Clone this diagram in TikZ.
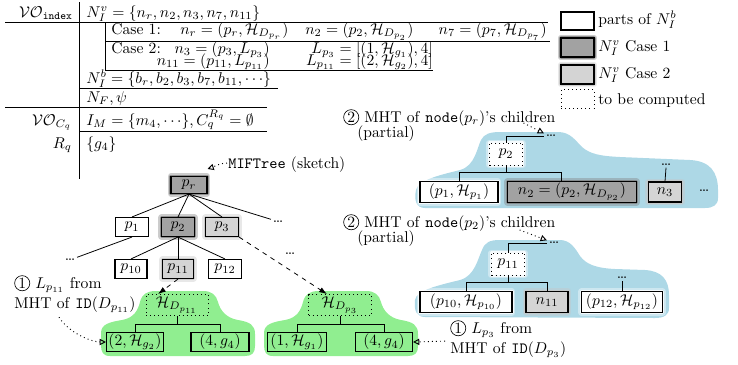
\documentclass[tikz,border=0pt]{standalone}
\usetikzlibrary{arrows.meta,calc}
\newdimen\pxu \pxu=0.64pt
\definecolor{mhtblue}{RGB}{173,216,230}
\definecolor{idgreen}{RGB}{144,238,144}
\definecolor{caseone}{RGB}{162,162,162}
\definecolor{casetwo}{RGB}{212,212,212}
\newcommand{\circnum}[1]{\tikz[baseline=(cn.base)]\node[draw,solid,circle,inner sep=0.5pt,line width=0.4pt](cn){#1};}
\tikzset{
  txt/.style={inner sep=0pt},
  rule/.style={line width=0.5pt},
  link/.style={line width=0.5pt},
  halo/.style={preaction={draw=#1,solid,line width=6.5\pxu,line join=round,opacity=0.4},
               preaction={draw=#1,solid,line width=3.5\pxu,line join=round,opacity=0.8}},
  pbox/.style={draw,line width=0.7pt,inner sep=0pt,minimum height=19\pxu},
  nb/.style={pbox,fill=white,halo=white},
  ca/.style={pbox,fill=caseone,halo=gray},
  cb/.style={pbox,fill=casetwo,halo=gray!45},
  tbc/.style={draw,dotted,line width=0.6pt,fill=white,halo=white,inner sep=0pt,minimum height=22\pxu},
  idtbc/.style={draw,dotted,line width=0.6pt,inner sep=0pt,minimum height=21\pxu},
  dotsn/.style={inner sep=1pt},
  idarrow/.style={dashed,line width=0.5pt,-{Latex[length=5pt,width=3.5pt]}},
  note/.style={dotted,line width=0.6pt,-{Triangle[open,length=4pt,width=4pt]}},
}
\begin{document}
\begin{tikzpicture}[x=\pxu,y=-\pxu]
\useasboundingbox (0,0) rectangle (738,364);

% ---------- verification object table ----------
\draw[rule] (79,2) -- (79,179);
\draw[rule] (5,22) -- (548,22);
\draw[rule] (105,22) -- (105,70);
\draw[rule] (105,41) -- (550,41);
\draw[rule] (105,70) -- (433,70);
\draw[rule] (79,88) -- (278,88);
\draw[rule] (5,107) -- (267,107);
\draw[rule] (79,131) -- (267,131);

\node[txt,anchor=base east] (voi) at (73,17) {$\mathcal{VO}_{\mathtt{index}}$};
\node[txt,anchor=base west] (niv) at (86,17) {$N_I^v=\{n_r,n_2,n_3,n_7,n_{11}\}$};
\node[txt,anchor=base west] (c1) at (111,34) {Case 1:};
\node[txt,anchor=base west] (c1a) at (180,34) {$n_r=(p_r,\mathcal{H}_{D_{p_r}})$};
\node[txt,anchor=base west] (c1b) at (305,34) {$n_2=(p_2,\mathcal{H}_{D_{p_2}})$};
\node[txt,anchor=base east] (c1c) at (547,34) {$n_7=(p_7,\mathcal{H}_{D_{p_7}})$};
\node[txt,anchor=base west] (c2) at (111,53.5) {Case 2:};
\node[txt,anchor=base east] (c2a) at (270,53.5) {$n_3=(p_3,L_{p_3})$};
\node[txt,anchor=base east] (c2b) at (433,53.5) {$L_{p_3}=[(1,\mathcal{H}_{g_1}),4]$};
\node[txt,anchor=base east] (c2c) at (270,65.5) {$n_{11}=(p_{11},L_{p_{11}})$};
\node[txt,anchor=base east] (c2d) at (433,65.5) {$L_{p_{11}}=[(2,\mathcal{H}_{g_2}),4]$};
\node[txt,anchor=base west] (nib) at (86,83) {$N_I^b=\{b_r,b_2,b_3,b_7,b_{11},\cdots\}$};
\node[txt,anchor=base west] (nf) at (86,102) {$N_F,\psi$};
\node[txt,anchor=base east] (voc) at (72,125) {$\mathcal{VO}_{C_q}$};
\node[txt,anchor=base west] (im) at (86,125.5) {$I_M=\{m_4,\cdots\},C_q^{\bar{R}_q}=\emptyset$};
\node[txt,anchor=base east] (rq) at (72,148) {$R_q$};
\node[txt,anchor=base west] (gq) at (86,148) {$\{g_4\}$};

% ---------- legend ----------
\node[pbox,fill=white,minimum width=33\pxu,minimum height=18\pxu] (lg1) at (577.5,21) {};
\node[ca,minimum width=33\pxu] (lg2) at (577.5,47.5) {};
\node[cb,minimum width=33\pxu] (lg3) at (577.5,74.5) {};
\node[tbc,minimum width=33\pxu,minimum height=19\pxu] (lg4) at (577.5,99) {};
\node[txt,anchor=base west] (lt1) at (598,24) {parts of $N_I^b$};
\node[txt,anchor=base west] (lt2) at (598,51) {$N_I^v$ Case 1};
\node[txt,anchor=base west] (lt3) at (598,78) {$N_I^v$ Case 2};
\node[txt,anchor=base west] (lt4) at (598,104) {to be computed};

% ---------- MIFTree sketch ----------
\node[ca,minimum width=36\pxu,minimum height=17\pxu] (pr) at (189,185) {$p_r$};
\node[nb,minimum width=33\pxu] (p1) at (132,227) {$p_1$};
\node[ca,minimum width=33\pxu] (p2) at (178,227) {$p_2$};
\node[cb,minimum width=33\pxu] (p3) at (222,227) {$p_3$};
\node[dotsn] (dA) at (278,222) {\ldots};
\node[dotsn] (dB) at (70,260) {\ldots};
\node[nb,minimum width=32\pxu] (p10) at (131,269) {$p_{10}$};
\node[cb,minimum width=31\pxu] (p11) at (178,269) {$p_{11}$};
\node[nb,minimum width=33\pxu] (p12) at (225,269) {$p_{12}$};
\node[dotsn] (dC) at (290,254) {\ldots};

\draw[link] (pr.south) -- (p1.north);
\draw[link] (pr.south) -- (p2.north);
\draw[link] (pr.south) -- (p3.north);
\draw[link] (pr.south) -- (dA.north west);
\draw[link] (p1.south) -- (dB.north east);
\draw[link] (p2.south) -- (p10.north);
\draw[link] (p2.south) -- (p11.north);
\draw[link] (p2.south) -- (p12.north);

\node[txt,anchor=base west] (mif) at (228,168) {\texttt{MIFTree} (sketch)};
\draw[note] ($(mif.west)+(-1,-1)$) .. controls +(-8,0) and +(6,-2) .. ($(pr.north east)+(0,-7)$);

% ---------- MHTs of the two ID sets ----------
\fill[idgreen] (110,356) .. controls (103,356) and (101,352) .. (101,345) -- (101,333)
  .. controls (101,324) and (110,322) .. (122,320) .. controls (134,318) and (138,310) .. (140,302)
  .. controls (142,294) and (147,291) .. (156,291) -- (203,291)
  .. controls (212,291) and (216,295) .. (218,302) .. controls (220,310) and (226,318) .. (238,320)
  .. controls (250,322) and (255,325) .. (255,334) -- (255,346)
  .. controls (255,353) and (252,356) .. (245,356) -- cycle;
\begin{scope}[shift={(163,0)}]
\fill[idgreen] (110,356) .. controls (103,356) and (101,352) .. (101,345) -- (101,333)
  .. controls (101,324) and (110,322) .. (122,320) .. controls (134,318) and (138,310) .. (140,302)
  .. controls (142,294) and (147,291) .. (156,291) -- (203,291)
  .. controls (212,291) and (216,295) .. (218,302) .. controls (220,310) and (226,318) .. (238,320)
  .. controls (250,322) and (255,325) .. (255,334) -- (255,346)
  .. controls (255,353) and (252,356) .. (245,356) -- cycle;
\end{scope}

\node[idtbc,minimum width=62\pxu] (h11) at (177,305) {$\mathcal{H}_{D_{p_{11}}}$};
\node[pbox,minimum width=57\pxu] (g2a) at (135,342) {$(2,\mathcal{H}_{g_2})$};
\node[pbox,minimum width=58\pxu] (g2b) at (220,342) {$(4,g_4)$};
\node[idtbc,minimum width=63\pxu] (h3) at (340,305) {$\mathcal{H}_{D_{p_3}}$};
\node[pbox,minimum width=59\pxu] (g3a) at (297,342) {$(1,\mathcal{H}_{g_1})$};
\node[pbox,minimum width=57\pxu] (g3b) at (384,342) {$(4,g_4)$};

\draw[link] (h11.south) -- ++(0,8) -| (g2a.north);
\draw[link] (h11.south) -- ++(0,8) -| (g2b.north);
\draw[link] (h3.south) -- ++(0,8) -| (g3a.north);
\draw[link] (h3.south) -- ++(0,8) -| (g3b.north);

\draw[idarrow] (p3.south east) -- (h3.140);
\draw[idarrow] (p11.south) -- (h11.150);

\node[txt,anchor=north west,align=left] (lab1) at (14,275)
  {\circnum{1} $L_{p_{11}}$ from\\[0.8pt]MHT of \texttt{ID}$(D_{p_{11}})$};
\draw[note] ($(lab1.south west)+(45,4)$) .. controls +(10,16) and +(-14,0) .. (g2a.west);

\node[txt,anchor=north west,align=left] (lab3) at (450,320)
  {\circnum{1} $L_{p_3}$ from\\[0.8pt]MHT of \texttt{ID}$(D_{p_3})$};
\draw[note] ($(lab3.west)+(-5,2)$) -- (g3b.east);

% ---------- partial MHT of node(p_r)'s children ----------
\fill[mhtblue] (425,208) .. controls (416,208) and (414,200) .. (416,190)
  .. controls (418,180) and (440,175) .. (460,170) .. controls (475,166) and (477,148) .. (481,140)
  .. controls (484,134) and (490,132) .. (500,132) -- (558,132)
  .. controls (570,132) and (575,140) .. (582,147) .. controls (590,154) and (600,156) .. (620,157)
  -- (690,160) .. controls (710,161) and (718,172) .. (718,190) -- (718,198)
  .. controls (718,205) and (713,208) .. (705,208) -- cycle;

\node[txt,anchor=north west,align=left] (m1) at (343,109)
  {\circnum{2} MHT of \texttt{node}$(p_r)$'s children\\[-2.4pt]\hspace*{9pt}(partial)};
\node[tbc,minimum width=33\pxu] (pp2) at (506,154) {$p_2$};
\node[nb,minimum width=78\pxu,minimum height=21\pxu] (q1) at (459,192) {$(p_1,\mathcal{H}_{p_1})$};
\node[ca,minimum width=129\pxu,minimum height=21\pxu] (q2) at (572,192) {$n_2=(p_2,\mathcal{H}_{D_{p_2}})$};
\node[cb,minimum width=33\pxu,minimum height=20\pxu] (q3) at (665,192) {$n_3$};
\node[dotsn] (dT1) at (551,136) {\ldots};
\node[dotsn] (dN3) at (666,165) {\ldots};
\node[dotsn] (dR1) at (704,191) {\ldots};

\draw[link] (pp2.north) |- (dT1.west);
\draw[link] (pp2.south) -- ++(0,7) -| (q1.north);
\draw[link] (pp2.south) -- ++(0,7) -| ($(q2.north)+(-11,0)$);
\draw[link] (q3.north) -- (dN3.south);
\draw[note] ($(m1.north east)+(-32,14)$) -- (dT1.north west);

% ---------- partial MHT of node(p_2)'s children ----------
\fill[mhtblue] (425,317) .. controls (416,317) and (414,310) .. (415,300)
  .. controls (416,290) and (440,285) .. (460,280) .. controls (475,276) and (478,258) .. (482,250)
  .. controls (485,242) and (490,240) .. (500,240) -- (560,240)
  .. controls (570,240) and (575,248) .. (580,256) .. controls (586,264) and (595,268) .. (615,269)
  -- (645,270) .. controls (662,271) and (669,280) .. (669,295) -- (669,308)
  .. controls (669,315) and (664,318) .. (655,318) -- cycle;

\node[txt,anchor=north west,align=left] (m2) at (343,214)
  {\circnum{2} MHT of \texttt{node}$(p_2)$'s children\\[-2.4pt]\hspace*{9pt}(partial)};
\node[tbc,minimum width=33\pxu] (pp11) at (508,264) {$p_{11}$};
\node[nb,minimum width=92\pxu,minimum height=21\pxu] (r1) at (466,302) {$(p_{10},\mathcal{H}_{p_{10}})$};
\node[cb,minimum width=42\pxu,minimum height=21\pxu] (r2) at (547,302) {$n_{11}$};
\node[nb,minimum width=81\pxu,minimum height=21\pxu] (r3) at (622,302) {$(p_{12},\mathcal{H}_{p_{12}})$};
\node[dotsn] (dT2) at (554,243) {\ldots};
\node[dotsn] (dP12) at (622,278) {\ldots};

\draw[link] (pp11.north) |- (dT2.west);
\draw[link] (pp11.south) -- ++(0,7) -| (r1.north);
\draw[link] (pp11.south) -- ++(0,7) -| (r2.north);
\draw[link] (r3.north) -- (dP12.south);
\draw[note] ($(m2.north east)+(-36,16)$) -- (dT2.north west);
\end{tikzpicture}
\end{document}
